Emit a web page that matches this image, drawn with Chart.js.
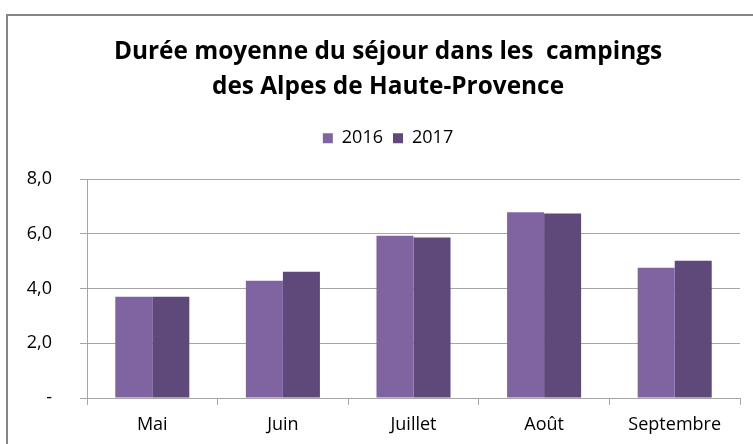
<!DOCTYPE html>
<html>
<head>
<meta charset="utf-8">
<script src="https://cdn.jsdelivr.net/npm/chart.js@4"></script>
<style>
  html, body { margin: 0; padding: 0; background: #fff; overflow: hidden; }
  #wrap { position: relative; width: 753px; height: 444px; }
  #frame { position: absolute; left: 6px; top: 14px; width: 800px; height: 500px;
           border: 2px solid #868686; box-sizing: border-box; pointer-events: none; }
  canvas { position: absolute; left: 0; top: 0; }
</style>
</head>
<body>
<div id="wrap">
  <canvas id="chart" width="753" height="444"></canvas>
  <div id="frame"></div>
</div>
<script>
const months = ["Mai", "Juin", "Juillet", "Août", "Septembre"];
const dur2016 = [3.70, 4.29, 5.93, 6.79, 4.76];
const dur2017 = [3.70, 4.62, 5.87, 6.75, 5.02];
const titleLines = ["Durée moyenne du séjour dans les  campings", "des Alpes de Haute-Provence"];

const gridColor = "#a6a6a6";
const fontFam = "'Open Sans', sans-serif";

// title + legend are centred a bit right of the canvas middle in the original
const shiftHeader = {
  id: "shiftHeader",
  afterLayout(chart) {
    if (chart.titleBlock) chart.titleBlock.left += 36;
    if (chart.legend) chart.legend.left += 36;
  },
};

const ctx = document.getElementById("chart");

new Chart(ctx, {
  type: "bar",
  data: {
    labels: months,
    datasets: [
      {
        label: "2016",
        data: dur2016,
        backgroundColor: "#8064a2",
        borderWidth: 0,
      },
      {
        label: "2017",
        data: dur2017,
        backgroundColor: "#5f497a",
        borderWidth: 0,
      },
    ],
  },
  options: {
    responsive: false,
    animation: false,
    layout: { padding: { left: 0, right: 13, top: 0, bottom: 0 } },
    datasets: {
      bar: { barPercentage: 1, categoryPercentage: 0.567 },
    },
    plugins: {
      title: {
        display: true,
        text: titleLines,
        color: "#000",
        font: { family: fontFam, size: 24.4, weight: "bold", lineHeight: 1.44 },
        padding: { top: 34, bottom: 15 },
      },
      // empty spacer between legend and plot
      subtitle: {
        display: true,
        text: "",
        weight: 500,
        font: { size: 10, lineHeight: 1 },
        padding: { top: 0, bottom: 12 },
      },
      legend: {
        position: "top",
        labels: {
          color: "#000",
          font: { family: fontFam, size: 18 },
          boxWidth: 10,
          boxHeight: 10,
          padding: 10,
        },
      },
      tooltip: { enabled: false },
    },
    scales: {
      x: {
        grid: {
          drawOnChartArea: false,
          drawTicks: true,
          tickLength: 7,
          color: gridColor,
          offset: true,
        },
        border: { color: gridColor },
        ticks: {
          color: "#000",
          font: { family: fontFam, size: 18 },
          padding: 9,
          maxRotation: 0,
        },
        afterFit: function (scale) {
          scale.height = 46;
        },
      },
      y: {
        min: 0,
        max: 8,
        grid: { color: gridColor, tickLength: 7 },
        border: { color: gridColor },
        ticks: {
          stepSize: 2,
          color: "#000",
          font: { family: fontFam, size: 18 },
          padding: 28,
          callback: function (v) {
            return v === 0 ? "-" : v.toFixed(1).replace(".", ",");
          },
        },
        afterFit: function (scale) {
          scale.width = 87;
        },
      },
    },
  },
  plugins: [shiftHeader],
});
</script>
</body>
</html>
